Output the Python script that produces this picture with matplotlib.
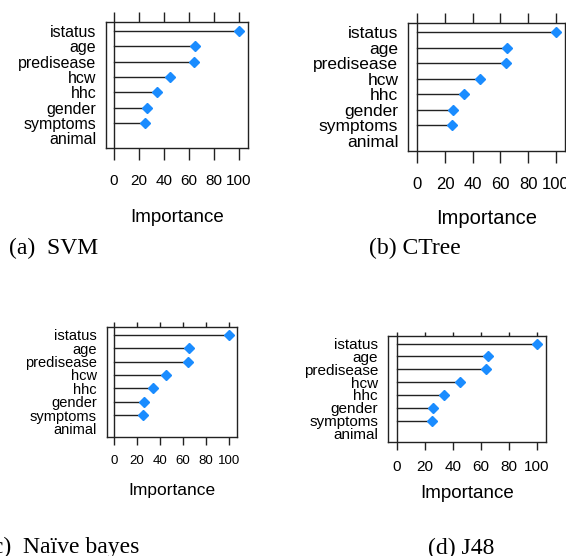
import matplotlib
matplotlib.use('Agg')
import matplotlib.pyplot as plt

# variable importance, same ranking in all four models
features = ['animal', 'symptoms', 'gender', 'hhc', 'hcw', 'predisease', 'age', 'istatus']
importance = [0, 25, 26, 34, 45, 64, 65, 100]
xticks = [0, 20, 40, 60, 80, 100]
captions = ['(a)  SVM', '(b) CTree', '(c)  Naïve bayes', '(d) J48']

W, H = 566, 556
fig = plt.figure(figsize=(W / 100, H / 100), dpi=100)
fig.patch.set_facecolor('white')


def px_axes(left, top, right, bottom):
    return fig.add_axes([left / W, 1 - bottom / H, (right - left) / W, (bottom - top) / H])


# per panel: box (l, t, r, b), x pixel of 0 and 100, font sizes
panels = [
    dict(box=(106, 22, 248, 148), p0=114, p100=239,
         ylab=11.5, tick=11, xlab=13.5, top_len=10, bot_len=12, pad=14, xl_y=218,
         cap=(54, 248)),
    dict(box=(408, 23, 565, 151), p0=417.3, p100=555.7,
         ylab=12.5, tick=12, xlab=14.5, top_len=10, bot_len=12, pad=14, xl_y=218,
         cap=(415, 248)),
    dict(box=(106.7, 327, 237, 437), p0=114.3, p100=228.7,
         ylab=10.5, tick=9.5, xlab=12.5, top_len=5, bot_len=8, pad=10, xl_y=491,
         cap=(62, 547)),
    dict(box=(387.7, 336, 546, 441.7), p0=396.7, p100=536.7,
         ylab=11, tick=11, xlab=13.5, top_len=4, bot_len=8, pad=10, xl_y=493,
         cap=(461, 548)),
]

ypos = list(range(1, len(features) + 1))
fam = 'Liberation Sans'

for p, cap in zip(panels, captions):
    l, t, r, b = p['box']
    ax = px_axes(l, t, r, b)
    s = (p['p100'] - p['p0']) / 100.0
    ax.set_xlim((l - p['p0']) / s, (r - p['p0']) / s)
    ax.set_ylim(0.35, 8.6)

    ax.axvline(0, color='#222222', lw=1.0)
    for y, v in zip(ypos, importance):
        if v > 0:
            ax.plot([0, v], [y, y], color='#222222', lw=1.0)
    vals = [v for v in importance if v > 0]
    ys = [y for y, v in zip(ypos, importance) if v > 0]
    ax.plot(vals, ys, 'D', color='#1a8cff', ms=5, mec='#1a8cff')

    for sp in ax.spines.values():
        sp.set_linewidth(1.0)
        sp.set_color('#222222')

    ax.set_yticks(ypos)
    ax.set_yticklabels(features, family=fam, fontsize=p['ylab'])
    ax.tick_params(axis='y', length=0, pad=7)

    ax.set_xticks(xticks)
    ax.set_xticklabels([str(x) for x in xticks], family=fam, fontsize=p['tick'])
    ax.tick_params(axis='x', direction='out', top=True, length=p['bot_len'] * 0.72,
                   width=1.0, color='#222222', pad=p['pad'] * 0.72)
    for tl in ax.xaxis.get_major_ticks():
        tl.tick2line.set_markersize(p['top_len'] * 0.72)

    ax.set_xlabel('Importance', family=fam, fontsize=p['xlab'])
    ax.xaxis.label.set_va('center')
    ax.xaxis.set_label_coords(0.5, -(p['xl_y'] - b) / (b - t))

    fig.text(p['cap'][0] / W, 1 - p['cap'][1] / H, cap, family='Liberation Serif',
             fontsize=17, ha='center', va='center')

fig.savefig('out.png', dpi=100)
